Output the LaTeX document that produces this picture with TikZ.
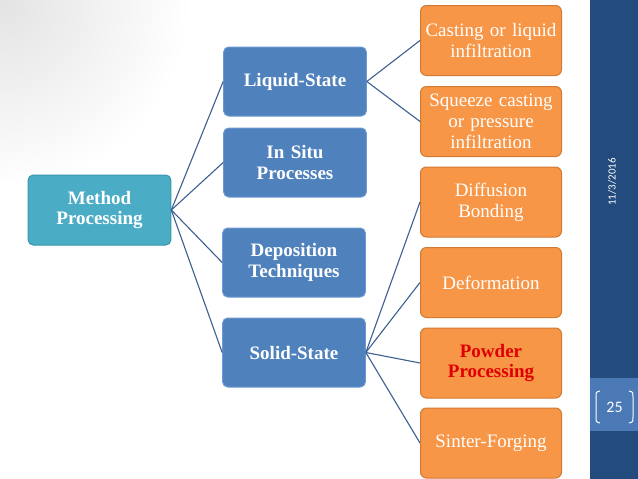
\documentclass[tikz,border=0pt]{standalone}
\usepackage{fontspec}
\setmainfont{Liberation Serif}
\newfontfamily\slidefont{Carlito}
\definecolor{methodfill}{HTML}{4BACC6}
\definecolor{methodline}{HTML}{3A95AE}
\definecolor{bluefill}{HTML}{4F81BD}
\definecolor{blueline}{HTML}{6B98D2}
\definecolor{orangefill}{HTML}{F79646}
\definecolor{orangeline}{HTML}{D27A33}
\definecolor{linkcol}{HTML}{3D5F91}
\definecolor{banddark}{HTML}{234B7D}
\definecolor{bandlight}{HTML}{4A79B6}
\definecolor{powderred}{HTML}{E00000}
\begin{document}
\begin{tikzpicture}[x=1pt,y=-1pt,
  root/.style={draw=methodline,line width=1pt,fill=methodfill,rounded corners=5pt,
    minimum width=141pt,minimum height=70pt,text width=136pt,align=center,
    text=white,font=\bfseries\fontsize{19}{20.5}\selectfont},
  kind/.style={draw=blueline,line width=1pt,fill=bluefill,rounded corners=5pt,
    minimum width=140pt,minimum height=69pt,text width=136pt,align=center,
    text=white,font=\bfseries\fontsize{19}{20.5}\selectfont},
  route/.style={draw=orangeline,line width=1pt,fill=orangefill,rounded corners=6pt,
    minimum width=141pt,minimum height=70pt,text width=139pt,inner xsep=1pt,align=center,
    text=white,font=\fontsize{19}{20.8}\selectfont},
  link/.style={draw=linkcol,line width=1.1pt}]
  % background and side band
  \useasboundingbox (0,0) rectangle (638,479);
  \fill[white] (0,0) rectangle (638,479);
  \shade[inner color=gray!22,outer color=white] (0,0) circle (190);
  \fill[white] (0,190) rectangle (590,479);
  \fill[white] (190,0) rectangle (590,479);
  \fill[banddark] (590,0) rectangle (638,479);
  \fill[bandlight] (590,378) rectangle (638,431);
  \node[rotate=90,text=white,font=\slidefont\fontsize{11}{12}\selectfont] (date) at (612,182) {11/3/2016};
  \node[text=white,font=\slidefont\fontsize{16}{18}\selectfont] (page) at (614.5,407) {25};
  \draw[white,line width=1pt] (600,391) .. controls (596,392) .. (596,397) -- (596,417) .. controls (596,422) .. (600,423);
  \draw[white,line width=1pt] (629,391) .. controls (633,392) .. (633,397) -- (633,417) .. controls (633,422) .. (629,423);
  % tree
  \node[root] (method) at (99.5,210) {Method\\Processing};
  \node[kind] (liquid) at (295,81.5) {Liquid-State};
  \node[kind] (insitu) at (295,162.5) {In Situ\\Processes};
  \node[kind] (depos) at (294,262.5) {Deposition\\Techniques};
  \node[kind] (solid) at (294,352.5) {Solid-State};
  \node[route] (casting) at (491,40.5) {Casting or liquid\\infiltration};
  \node[route] (squeeze) at (491,121.5) {Squeeze casting\\or pressure\\infiltration};
  \node[route] (diffus) at (491,202) {Diffusion\\Bonding};
  \node[route] (deform) at (491,282.5) {Deformation};
  \node[route,text=powderred,font=\bfseries\fontsize{19}{20.8}\selectfont] (powder) at (491,363) {Powder\\Processing};
  \node[route] (sinter) at (491,443) {Sinter-Forging};
  \foreach \kid in {liquid,insitu,depos,solid}
    \draw[link] (method.east) -- (\kid.west);
  \foreach \kid in {casting,squeeze}
    \draw[link] (liquid.east) -- (\kid.west);
  \foreach \kid in {diffus,deform,powder,sinter}
    \draw[link] (solid.east) -- (\kid.west);
\end{tikzpicture}
\end{document}
